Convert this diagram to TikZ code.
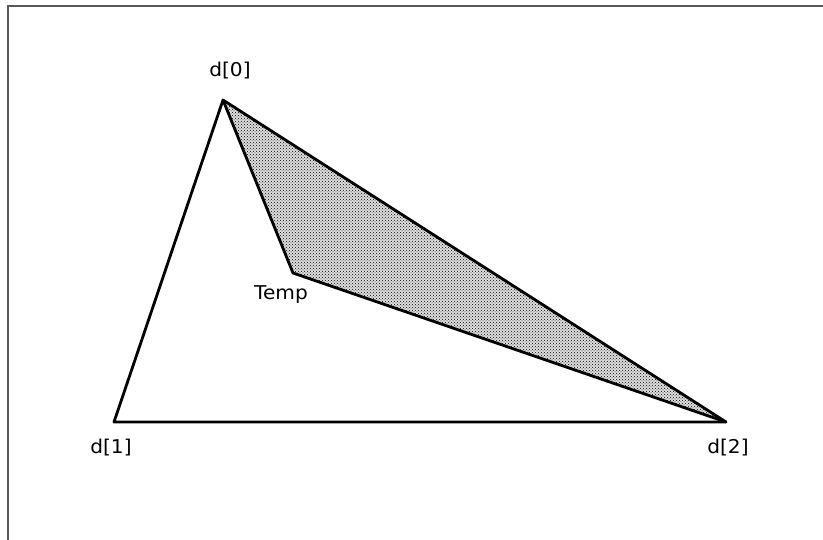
\documentclass[tikz,border=0pt]{standalone}
\usepackage{fontspec}
\setmainfont{DejaVu Sans}
\usetikzlibrary{patterns}
\begin{document}
\begin{tikzpicture}[x=1pt,y=-1pt,
  edge/.style={line width=2.8pt,line join=round},
  lbl/.style={font=\fontsize{19}{21}\selectfont,inner sep=0pt,xscale=1.06}]
\useasboundingbox (0,0) rectangle (823,540);
\draw[line width=2pt,gray!70!black] (8,545) -- (8,6) -- (830,6);
\coordinate (d0) at (223,100);
\coordinate (d1) at (114,422);
\coordinate (d2) at (726,422);
\coordinate (t) at (293,273);
\fill[gray!25] (d0) -- (t) -- (d2) -- cycle;
\fill[pattern=crosshatch dots,pattern color=black] (d0) -- (t) -- (d2) -- cycle;
\draw[edge] (d0) -- (d1) -- (d2) -- cycle;
\draw[edge] (d0) -- (t) -- (d2);
\node[lbl] (l0) at (230,71) {d[0]};
\node[lbl] (lt) at (281,295) {Temp};
\node[lbl] (l1) at (111,448) {d[1]};
\node[lbl] (l2) at (728,448) {d[2]};
\end{tikzpicture}
\end{document}
